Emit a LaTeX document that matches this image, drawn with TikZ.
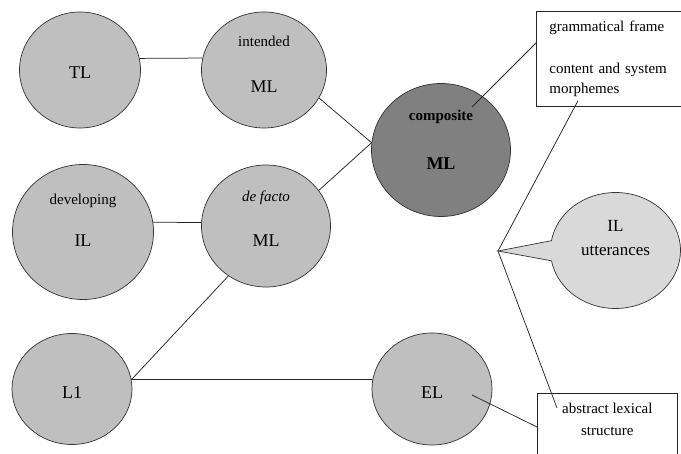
\documentclass[tikz,border=0pt]{standalone}
\usepackage{fontspec}
\setmainfont{Liberation Serif}
\usepackage{tikz}
\usetikzlibrary{shapes.geometric, shapes.callouts, calc}
\definecolor{circgray}{RGB}{191,191,191}
\definecolor{compgray}{RGB}{128,128,128}
\definecolor{bubblegray}{RGB}{217,217,217}
\newcommand{\smallsz}{\fontsize{15}{18}\selectfont}
\newcommand{\bigsz}{\fontsize{18}{21}\selectfont}

\begin{document}
\begin{tikzpicture}[
    x=1pt, y=-1pt,
    font=\smallsz,
    circ/.style={ellipse, draw=black!80, line width=0.7pt, fill=#1, align=center, inner sep=0pt},
    circ/.default=circgray,
    txtbox/.style={rectangle, draw=black!85, line width=0.7pt, fill=white},
    conn/.style={draw=black!85, line width=0.75pt},
]
\useasboundingbox (0,0) rectangle (681,454);
\clip (0,0) rectangle (681,454);

% --- left column: TL, developing IL, L1 ---
\node[circ, minimum width=121pt, minimum height=116pt, text height=18pt, font=\bigsz] (tl) at (80,70) {TL};
\node[circ, minimum width=141pt, minimum height=135pt, text depth=23.8pt] (devil) at (83,232) {developing\\[23.6pt]\bigsz IL};
\node[circ, minimum width=120pt, minimum height=111pt, text height=20pt, font=\bigsz] (lone) at (72,389) {L1};

% --- middle column: intended ML, de facto ML, EL ---
\node[circ, minimum width=125pt, minimum height=116pt, text depth=11.8pt] (intml) at (264,70) {intended\\[27.6pt]\bigsz ML};
\node[circ, minimum width=129pt, minimum height=122pt, text depth=14.8pt] (defml) at (266,226) {\textit{de facto}\\[26.6pt]\bigsz ML};
\node[circ, minimum width=120pt, minimum height=112pt, text height=20pt, font=\bigsz] (el) at (432,389) {EL};

% --- composite ML ---
\node[circ=compgray, minimum width=139pt, minimum height=133pt, text depth=20.8pt, font=\smallsz\bfseries] (comp) at (441,150) {composite\\[30.5pt]\bigsz\bfseries ML};

% --- right side: boxes and speech bubble ---
\coordinate (tip) at (498,251);
\node[circ=bubblegray, ellipse callout, callout absolute pointer={(tip)}, callout pointer arc=20,
      minimum width=130pt, minimum height=116pt, font=\fontsize{17}{24}\selectfont, text depth=26pt] (ilutt) at (615.5,250.5) {IL\\utterances};
\node[txtbox, anchor=north west, minimum height=95pt, text width=135pt, inner xsep=13pt, align=left,
      font=\fontsize{15}{20}\selectfont] (gframe) at (536,11) {grammatical frame\\[22pt]content and system\\morphemes};
\node[txtbox, anchor=north west, minimum width=140pt, align=center, inner ysep=10pt, text depth=40pt,
      font=\fontsize{15}{22}\selectfont] (lexbox) at (537,393) {abstract lexical\\structure};

% --- connectors ---
\draw[conn] (tl.11) -- (intml.169);
\draw[conn] (devil.8) -- (defml.177);
\draw[conn] (intml.-27) -- (comp.174);
\draw[conn] (defml.34) -- (comp.174);
\draw[conn] (lone.9) -- (el.171);
\draw[conn] (lone.9) -- (defml.233);
\draw[conn] ($(comp.center)+(31,-43)$) -- ($(gframe.north west)+(0,32)$);
\draw[conn] ($(gframe.south west)+(42,-6)$) -- (tip);
\draw[conn] (tip) -- ($(lexbox.north west)+(20,15)$);
\draw[conn] ($(el.center)+(40,6)$) -- ($(lexbox.north west)+(0,34)$);
\end{tikzpicture}
\end{document}
